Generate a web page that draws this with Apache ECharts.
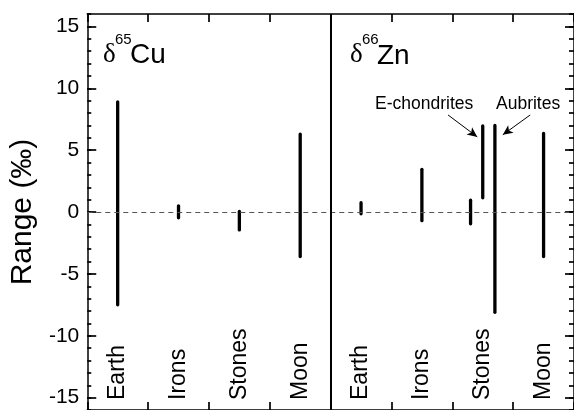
<!DOCTYPE html>
<html>
<head>
<meta charset="utf-8">
<script src="https://cdn.jsdelivr.net/npm/echarts@6/dist/echarts.min.js"></script>
<style>
html,body{margin:0;padding:0;background:#fff;overflow:hidden;}
#chart{width:574px;height:410px;}
</style>
</head>
<body>
<div id="chart"></div>
<script>
// ---- data ----
const categories = ['Earth', 'Irons', 'Stones', 'Moon', 'Earth', 'Irons', 'Stones', 'Moon'];
const yTickValues = [-15, -10, -5, 0, 5, 10, 15];
const cuX = [0.5, 1.5, 2.5, 3.5];
const cuLow = [-7.5, -0.47, -1.45, -3.6];
const cuHigh = [8.9, 0.5, 0.05, 6.3];
const znX = [4.5, 5.5, 6.3, 6.5, 6.7, 7.5];
const znLow = [-0.15, -0.7, -0.95, 1.15, -8.1, -3.6];
const znHigh = [0.75, 3.45, 0.95, 6.95, 7.0, 6.35];
const annotations = ['E-chondrites', 'Aubrites'];

const rangeData = [];
cuX.forEach((x, i) => rangeData.push([x, cuLow[i], cuHigh[i]]));
znX.forEach((x, i) => rangeData.push([x, znLow[i], znHigh[i]]));

const FONT = '"Liberation Sans", Arial, Helvetica, sans-serif';
const SERIF = '"Liberation Serif", "DejaVu Serif", serif';

const chart = echarts.init(document.getElementById('chart'), null, {renderer: 'canvas'});

const axisLineStyle = {color: '#000', width: 1.5};
const tickStyle = {color: '#000', width: 1.7};

const option = {
  animation: false,
  backgroundColor: '#fff',
  grid: {left: 86, top: 14, width: 490, height: 398, containLabel: false},
  xAxis: [
    {
      type: 'value', position: 'bottom', min: 0, max: 8, interval: 1,
      axisLine: {show: true, onZero: false, lineStyle: axisLineStyle},
      axisTick: {show: true, inside: true, length: 8, lineStyle: tickStyle},
      axisLabel: {show: false}, splitLine: {show: false}
    },
    {
      type: 'value', position: 'top', min: 0, max: 8, interval: 1,
      axisLine: {show: true, onZero: false, lineStyle: axisLineStyle},
      axisTick: {show: true, inside: true, length: 8, lineStyle: tickStyle},
      axisLabel: {show: false}, splitLine: {show: false}
    },
    {
      type: 'category', position: 'bottom', data: categories, boundaryGap: true,
      axisLine: {show: false, onZero: false}, axisTick: {show: false}, splitLine: {show: false},
      axisLabel: {show: true, inside: true, rotate: 90, margin: 10, interval: 0,
        color: '#000', fontSize: 23, fontFamily: FONT}
    }
  ],
  yAxis: [
    {
      type: 'value', position: 'left', min: -16, max: 16,
      name: 'Range (‰)', nameLocation: 'middle', nameRotate: 90, nameGap: 46,
      nameTextStyle: {color: '#000', fontSize: 30, fontFamily: FONT},
      axisLine: {show: true, onZero: false, lineStyle: axisLineStyle},
      axisTick: {show: true, inside: true, length: 9, customValues: yTickValues, lineStyle: tickStyle},
      axisLabel: {show: true, customValues: yTickValues, margin: 8, color: '#000',
        fontSize: 21, fontFamily: FONT},
      splitLine: {show: false}
    },
    {
      type: 'value', position: 'left', min: -16, max: 16, interval: 1,
      axisLine: {show: false, onZero: false},
      axisTick: {show: true, inside: true, length: 4, lineStyle: tickStyle},
      axisLabel: {show: false}, splitLine: {show: false}
    },
    {
      type: 'value', position: 'right', min: -16, max: 16,
      axisLine: {show: true, onZero: false, lineStyle: axisLineStyle},
      axisTick: {show: true, inside: true, length: 9, customValues: yTickValues, lineStyle: tickStyle},
      axisLabel: {show: false}, splitLine: {show: false}
    },
    {
      type: 'value', position: 'right', min: -16, max: 16, interval: 1,
      axisLine: {show: false, onZero: false},
      axisTick: {show: true, inside: true, length: 5, lineStyle: tickStyle},
      axisLabel: {show: false}, splitLine: {show: false}
    }
  ],
  series: [
    {
      type: 'line', xAxisIndex: 0, yAxisIndex: 0, data: [], silent: true,
      markLine: {
        silent: true, symbol: ['none', 'none'], label: {show: false},
        data: [
          {yAxis: 0, lineStyle: {color: '#555', width: 1, type: [5, 4]}},
          {xAxis: 4, lineStyle: {color: '#000', width: 2, type: 'solid'}}
        ]
      }
    },
    {
      type: 'line', xAxisIndex: 0, yAxisIndex: 0, data: [], silent: true,
      markLine: {
        silent: true, symbol: ['none', 'arrow'], symbolSize: [7, 10], label: {show: false},
        lineStyle: {color: '#000', width: 1, type: 'solid'},
        data: [
          [{coord: [5.93, 7.84]}, {coord: [6.41, 6.07]}],
          [{coord: [7.28, 7.84]}, {coord: [6.83, 6.24]}]
        ]
      }
    },
    {
      type: 'custom', xAxisIndex: 0, yAxisIndex: 0, data: rangeData, silent: true,
      encode: {x: 0, y: [1, 2]},
      renderItem: function (params, api) {
        const x = api.value(0), lo = api.value(1), hi = api.value(2);
        const p1 = api.coord([x, lo]);
        const p2 = api.coord([x, hi]);
        return {
          type: 'line',
          shape: {x1: p1[0], y1: p1[1], x2: p2[0], y2: p2[1]},
          style: {stroke: '#000', lineWidth: 3.3, lineCap: 'round'}
        };
      }
    }
  ],
  graphic: [
    {type: 'text', x: 103, y: 55, style: {text: 'δ', fill: '#000', font: '27px ' + SERIF, verticalAlign: 'middle'}},
    {type: 'text', x: 115, y: 40, style: {text: '65', fill: '#000', font: '15px ' + FONT, verticalAlign: 'middle'}},
    {type: 'text', x: 130, y: 55, style: {text: 'Cu', fill: '#000', font: '28px ' + FONT, verticalAlign: 'middle'}},
    {type: 'text', x: 350, y: 55, style: {text: 'δ', fill: '#000', font: '27px ' + SERIF, verticalAlign: 'middle'}},
    {type: 'text', x: 362, y: 40, style: {text: '66', fill: '#000', font: '15px ' + FONT, verticalAlign: 'middle'}},
    {type: 'text', x: 377, y: 56, style: {text: 'Zn', fill: '#000', font: '28px ' + FONT, verticalAlign: 'middle'}},
    {type: 'text', x: 375, y: 104, style: {text: annotations[0], fill: '#000', font: '17.5px ' + FONT, verticalAlign: 'middle'}},
    {type: 'text', x: 496, y: 104, style: {text: annotations[1], fill: '#000', font: '17.5px ' + FONT, verticalAlign: 'middle'}}
  ]
};
chart.setOption(option);
</script>
</body>
</html>
